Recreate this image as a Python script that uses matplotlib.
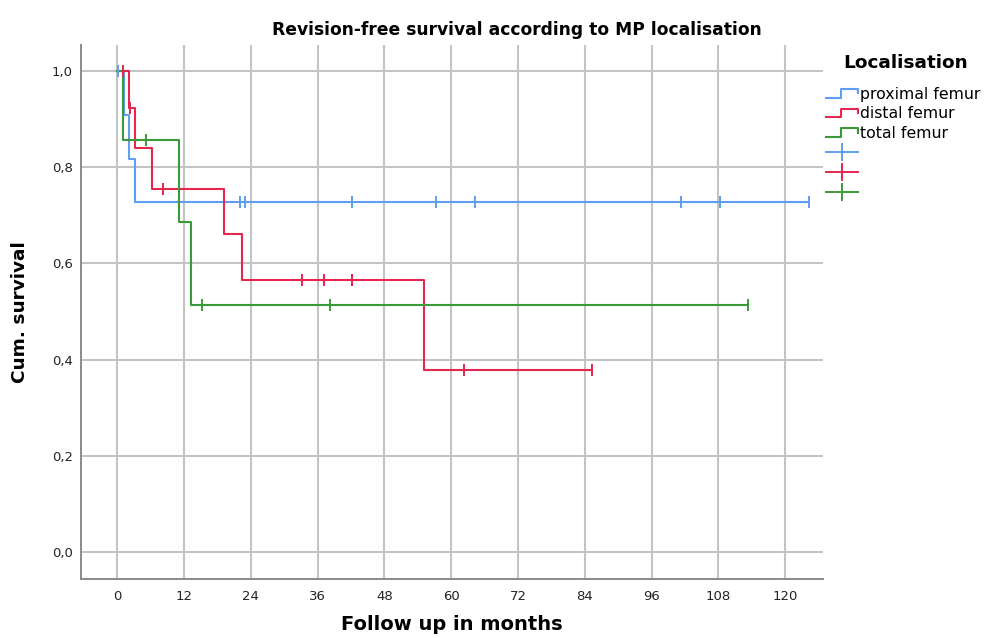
import numpy as np
import matplotlib
matplotlib.use('Agg')
import matplotlib.pyplot as plt
from matplotlib.lines import Line2D
from matplotlib.legend_handler import HandlerBase

plt.rcParams['font.family'] = 'DejaVu Sans'

# Kaplan-Meier steps: step start times, survival after each step.
groups = ['proximal femur', 'distal femur', 'total femur']
colors = ['#5f9ef0', '#e5264f', '#3a9a3a']

prox_times = [0, 1.3, 2.2, 3.2]
prox_surv = [1.0, 0.909, 0.818, 0.727]
prox_end = 124.2
prox_cens = [0.2, 22.1, 23.0, 42.2, 57.3, 64.3, 101.3, 108.3, 124.2]

dist_times = [0, 2.2, 3.2, 6.3, 19.2, 22.4, 55.1]
dist_surv = [1.0, 0.923, 0.839, 0.755, 0.661, 0.566, 0.378]
dist_end = 85.3
dist_cens = [1.1, 2.25, 8.2, 33.2, 37.2, 42.2, 62.3, 85.3]

tot_times = [0, 1.1, 11.1, 13.3]
tot_surv = [1.0, 0.857, 0.686, 0.514]
tot_end = 113.3
tot_cens = [5.2, 15.3, 38.2, 113.3]

xticks = list(range(0, 121, 12))
yticks = [0.0, 0.2, 0.4, 0.6, 0.8, 1.0]


class StepHandler(HandlerBase):
    # little step-shaped legend key, like the SPSS survival legend
    def create_artists(self, legend, orig, xd, yd, w, h, fontsize, trans):
        xs = np.array([0, 0.45, 0.45, 1.0, 1.0]) * w - xd
        ys = np.array([0.1, 0.1, 0.9, 0.9, 0.5]) * h - yd
        ln = Line2D(xs, ys, color=orig.get_color(), lw=orig.get_linewidth(),
                    transform=trans)
        return [ln]


fig = plt.figure(figsize=(9.91, 6.38), dpi=100)
ax = fig.add_axes([0.0817, 0.0925, 0.7488, 0.837])

series = [(prox_times, prox_surv, prox_end, prox_cens),
          (dist_times, dist_surv, dist_end, dist_cens),
          (tot_times, tot_surv, tot_end, tot_cens)]

step_handles = []
cens_handles = []
for (t, s, end, cens), col, name in zip(series, colors, groups):
    tt = list(t) + [end]
    ss = list(s) + [s[-1]]
    ln, = ax.step(tt, ss, where='post', color=col, lw=1.5, zorder=3)
    idx = np.searchsorted(t, cens, side='right') - 1
    ax.plot(cens, np.array(s)[idx], ls='none', marker='|', ms=9, mew=1.4,
            color=col, zorder=4)
    step_handles.append(ln)
    cens_handles.append(Line2D([], [], color=col, lw=1.4, marker='|', ms=13,
                               mew=1.4))

ax.set_xlim(-6.5, 126.8)
ax.set_ylim(-0.056, 1.054)
ax.set_xticks(xticks)
ax.set_yticks(yticks)
ax.set_yticklabels([f'{v:.1f}'.replace('.', ',') for v in yticks])
ax.tick_params(length=0, labelsize=9.5, colors='#222222')
ax.tick_params(axis='y', pad=6)
ax.tick_params(axis='x', pad=8)
ax.grid(True, color='#c4c4c4', lw=1.5)
ax.set_axisbelow(True)
for side in ['top', 'right']:
    ax.spines[side].set_visible(False)
for side in ['left', 'bottom']:
    ax.spines[side].set_color('#8a8a8a')
    ax.spines[side].set_linewidth(1.4)

fig.text(0.522, 0.953, 'Revision-free survival according to MP localisation',
         ha='center', va='center', fontsize=12.3, fontweight='bold')
fig.text(0.456, 0.006, 'Follow up in months', ha='center', va='bottom',
         fontsize=14, fontweight='bold')
fig.text(0.02, 0.511, 'Cum. survival', ha='center', va='center',
         rotation=90, fontsize=13.3, fontweight='bold')
fig.text(0.914, 0.901, 'Localisation', ha='center', va='center',
         fontsize=13.3, fontweight='bold')

handler = {h: StepHandler() for h in step_handles}
leg = fig.legend(step_handles + cens_handles, groups + ['', '', ''],
                 handler_map=handler, loc='upper left',
                 bbox_to_anchor=(0.834, 0.864), frameon=False,
                 fontsize=11.3, handlelength=2.0, handletextpad=0.15,
                 labelspacing=0.3, borderpad=0, borderaxespad=0, numpoints=1)

fig.savefig('out.png', dpi=100)
